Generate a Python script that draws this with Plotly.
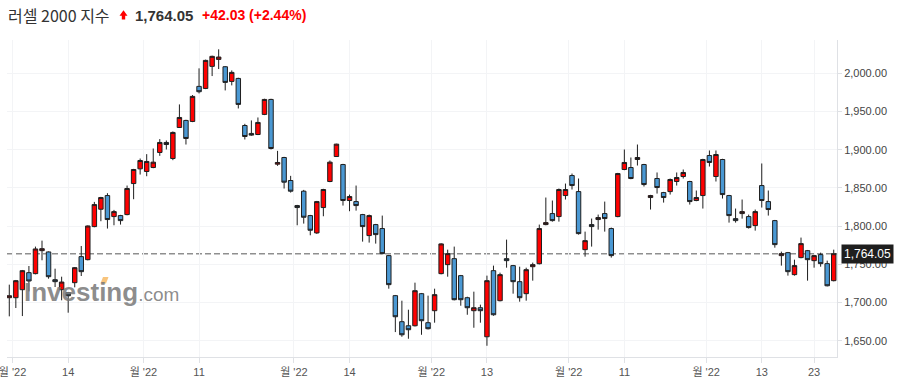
import plotly.graph_objects as go
import pandas as pd

# ---------------- data ----------------
holidays = ["2022-07-04", "2022-09-05", "2022-11-24", "2022-12-26"]
dates = pd.bdate_range("2022-06-30", "2022-12-29", freq="C", holidays=holidays)

open_ = [1706.4, 1706.4, 1716.9, 1739.2, 1737.9, 1768.0, 1766.3, 1730.0, 1716.9, 1713.0,
         1726.1, 1760.2, 1756.2, 1799.5, 1822.2, 1840.1, 1812.6, 1813.9, 1815.2, 1855.8,
         1875.1, 1871.6, 1876.8, 1896.5, 1909.6, 1888.6, 1929.2, 1938.4, 1937.1, 1983.0,
         1980.3, 2009.2, 2018.3, 2008.7, 1989.5, 1993.4, 1931.8, 1921.4, 1920.0, 1946.3,
         1965.9, 1881.2, 1889.9, 1859.8, 1827.0, 1845.8, 1813.9, 1791.2, 1824.4, 1858.5,
         1891.2, 1880.7, 1833.6, 1832.2, 1815.2, 1787.7, 1802.1, 1796.9, 1761.5, 1709.1,
         1675.0, 1669.7, 1669.7, 1711.7, 1673.7, 1689.4, 1737.9, 1749.7, 1757.5, 1735.3,
         1706.4, 1689.4, 1693.3, 1655.3, 1741.8, 1702.5, 1757.5, 1748.4, 1727.4, 1711.7,
         1747.0, 1750.9, 1802.1, 1816.5, 1812.6, 1840.1, 1866.3, 1845.3, 1769.3, 1802.1,
         1808.7, 1816.5, 1796.9, 1812.6, 1874.2, 1876.8, 1887.3, 1880.7, 1837.5, 1862.4,
         1844.0, 1845.3, 1858.5, 1865.0, 1858.5, 1833.6, 1840.1, 1892.5, 1865.0, 1887.3,
         1840.1, 1809.9, 1816.5, 1812.6, 1800.8, 1853.2, 1832.2, 1807.3, 1761.5, 1765.4,
         1736.6, 1758.9, 1768.0, 1754.9, 1762.8, 1751.0, 1728.7]
high = [1723.5, 1729.6, 1742.7, 1747.9, 1773.3, 1781.1, 1767.0, 1744.4, 1733.9, 1713.9,
        1746.6, 1774.1, 1801.0, 1831.8, 1838.4, 1843.2, 1821.3, 1814.8, 1853.2, 1875.0,
        1888.6, 1894.3, 1901.7, 1914.0, 1912.2, 1924.0, 1959.4, 1939.3, 1971.6, 2006.6,
        2018.0, 2023.2, 2031.5, 2009.6, 2003.9, 1994.3, 1934.0, 1938.4, 1942.3, 1966.8,
        1966.8, 1898.6, 1890.8, 1865.9, 1827.9, 1847.5, 1814.8, 1833.1, 1848.9, 1886.0,
        1907.9, 1881.6, 1841.4, 1853.2, 1816.1, 1815.2, 1803.0, 1813.9, 1762.4, 1710.0,
        1702.5, 1690.7, 1726.1, 1712.6, 1709.1, 1718.2, 1777.7, 1769.3, 1773.3, 1736.2,
        1707.7, 1714.3, 1697.3, 1735.3, 1748.4, 1739.2, 1782.4, 1749.3, 1747.0, 1745.7,
        1752.3, 1802.1, 1837.5, 1833.6, 1849.3, 1855.8, 1868.9, 1862.4, 1792.9, 1810.0,
        1815.2, 1832.2, 1798.2, 1869.8, 1900.4, 1889.9, 1906.9, 1881.6, 1841.0, 1870.3,
        1844.9, 1862.4, 1870.3, 1874.2, 1859.4, 1846.7, 1888.2, 1899.1, 1899.1, 1888.2,
        1841.0, 1823.1, 1834.9, 1815.2, 1821.8, 1882.1, 1846.7, 1808.2, 1766.7, 1766.3,
        1756.2, 1785.1, 1768.9, 1762.4, 1765.4, 1754.9, 1769.3]
low = [1682.0, 1692.9, 1682.4, 1714.7, 1737.0, 1755.4, 1731.3, 1720.4, 1703.0, 1686.8,
       1720.0, 1734.8, 1755.3, 1798.6, 1806.5, 1796.9, 1801.2, 1802.1, 1814.3, 1835.3,
       1867.6, 1865.4, 1875.9, 1892.1, 1900.4, 1886.4, 1928.8, 1906.9, 1936.2, 1973.8,
       1979.4, 1996.5, 2005.7, 1977.7, 1984.3, 1954.1, 1913.5, 1918.3, 1919.2, 1945.4,
       1900.4, 1879.0, 1849.3, 1844.0, 1801.2, 1803.4, 1788.1, 1789.9, 1813.0, 1857.6,
       1890.8, 1827.0, 1819.6, 1820.4, 1779.8, 1778.5, 1777.2, 1763.2, 1718.2, 1661.4,
       1655.3, 1652.7, 1668.8, 1657.9, 1664.9, 1673.7, 1737.0, 1733.9, 1702.9, 1695.9,
       1684.1, 1667.1, 1673.7, 1643.5, 1682.8, 1701.6, 1745.7, 1711.7, 1701.2, 1702.5,
       1728.7, 1750.0, 1801.2, 1806.0, 1806.0, 1834.9, 1848.0, 1789.0, 1760.2, 1773.3,
       1795.5, 1792.9, 1758.9, 1811.7, 1873.3, 1861.5, 1879.4, 1851.9, 1821.8, 1842.7,
       1830.9, 1841.4, 1853.2, 1862.4, 1828.3, 1832.7, 1823.1, 1878.1, 1858.5, 1836.2,
       1804.7, 1804.7, 1809.9, 1796.9, 1794.2, 1824.4, 1813.9, 1771.9, 1748.4, 1735.3,
       1735.3, 1758.0, 1728.7, 1745.7, 1747.0, 1721.2, 1727.8]
close = [1709.0, 1728.7, 1741.8, 1728.3, 1770.2, 1770.6, 1733.9, 1727.4, 1726.9, 1709.0,
         1745.7, 1740.5, 1800.3, 1828.3, 1837.5, 1808.7, 1819.1, 1807.3, 1849.3, 1874.2,
         1886.0, 1884.7, 1883.8, 1909.6, 1906.9, 1922.7, 1942.3, 1914.8, 1969.9, 1976.0,
         2017.0, 2022.3, 2021.4, 1988.2, 2001.3, 1959.4, 1917.4, 1919.2, 1935.8, 1965.9,
         1901.7, 1883.4, 1857.6, 1845.8, 1824.4, 1811.7, 1794.7, 1832.2, 1848.0, 1883.8,
         1907.4, 1833.6, 1838.8, 1827.0, 1799.5, 1813.9, 1789.0, 1764.1, 1723.5, 1681.5,
         1657.9, 1664.5, 1715.6, 1676.3, 1665.8, 1710.4, 1776.8, 1764.1, 1703.8, 1703.8,
         1693.3, 1693.3, 1689.4, 1728.7, 1684.1, 1736.6, 1754.9, 1727.4, 1706.4, 1743.1,
         1749.7, 1796.9, 1804.7, 1807.3, 1848.0, 1848.0, 1853.2, 1790.3, 1781.1, 1799.5,
         1811.3, 1810.0, 1761.5, 1868.9, 1883.4, 1862.4, 1889.9, 1854.5, 1840.1, 1850.6,
         1837.5, 1861.1, 1863.7, 1870.3, 1832.2, 1837.5, 1887.3, 1883.4, 1893.8, 1841.4,
         1813.9, 1807.3, 1819.1, 1798.2, 1819.1, 1833.6, 1821.8, 1775.9, 1764.1, 1740.5,
         1748.4, 1777.2, 1756.2, 1761.5, 1751.0, 1722.02, 1764.05]

# x-axis ticks: month starts ("YYYY-MM") and single days ("YYYY-MM-DD")
tick_dates = ["2022-07", "2022-07-14", "2022-08", "2022-08-11", "2022-09", "2022-09-14",
              "2022-10", "2022-10-13", "2022-11", "2022-11-11", "2022-12", "2022-12-13",
              "2022-12-23"]
tick_text = ["월 '22", "14", "월 '22", "11", "월 '22", "14", "월 '22", "13", "월 '22", "11",
             "월 '22", "13", "23"]
y_ticks = [1650, 1700, 1750, 1800, 1850, 1900, 1950, 2000]

title_name = "러셀 2000 지수"
change = 42.03
change_pct = 2.44

# ---------------- helpers ----------------
date_str = [d.strftime("%Y-%m-%d") for d in dates]
xi = list(range(len(close)))
tick_pos = []
for t in tick_dates:
    if len(t) == 7:
        first = next(i for i, d in enumerate(date_str) if d.startswith(t))
        tick_pos.append(first - 0.5)
    else:
        tick_pos.append(date_str.index(t))

W, H = 897, 384
ML, MR, MT, MB = 7, 60, 40, 27
PW, PH = W - ML - MR, H - MT - MB


def px(x):
    return (x - ML) / PW


def py(y):
    return (H - MB - y) / PH


def pix_path(points):
    return "M " + " L ".join(f"{px(x):.5f},{py(y):.5f}" for x, y in points) + " Z"


FONT = "'Liberation Sans', Arial, 'Noto Sans CJK KR', sans-serif"
KFONT = "'Noto Sans CJK KR', 'Liberation Sans', sans-serif"
RED = "#ff0000"
BLUE = "#4a98d3"
EDGE = "#1f1f1f"

fig = go.Figure()
fig.add_trace(go.Candlestick(
    x=xi, open=open_, high=high, low=low, close=close,
    text=date_str, hoverinfo="text+y",
    increasing=dict(fillcolor=RED, line=dict(color=EDGE, width=1)),
    decreasing=dict(fillcolor=BLUE, line=dict(color=EDGE, width=1)),
    whiskerwidth=0, showlegend=False,
))

last = close[-1]
arrow = [(119.5, 15.8), (123.5, 10.2), (127.5, 15.8), (125.2, 15.8), (125.2, 19.6),
         (121.8, 19.6), (121.8, 15.8)]
idot = [(100.5, 283.5), (103.0, 277.0), (108.5, 277.0), (106.0, 283.5)]

fig.update_layout(
    width=W, height=H,
    margin=dict(l=ML, r=MR, t=MT, b=MB, autoexpand=False),
    paper_bgcolor="white", plot_bgcolor="white",
    boxgap=0.15, boxgroupgap=0.2,
    font=dict(family=FONT, size=11, color="#444"),
    xaxis=dict(
        range=[-0.35, len(close) - 0.5],
        tickmode="array", tickvals=tick_pos, ticktext=tick_text,
        ticklabeloverflow="allow",
        showgrid=True, gridcolor="#f3f4f6", gridwidth=1,
        showline=True, linecolor="#dfe1e5", linewidth=1,
        ticks="outside", ticklen=5, tickcolor="#dfe1e5",
        tickfont=dict(family=FONT, size=11, color="#555"),
        rangeslider=dict(visible=False), zeroline=False, fixedrange=True,
    ),
    yaxis=dict(
        side="right", range=[1628.8, 2043.7],
        tickmode="array", tickvals=y_ticks, tickformat=",.2f",
        showgrid=True, gridcolor="#f3f4f6", gridwidth=1,
        showline=True, linecolor="#dfe1e5", linewidth=1,
        ticks="outside", ticklen=4, tickcolor="#dfe1e5",
        tickfont=dict(family=FONT, size=11, color="#444"),
        zeroline=False, fixedrange=True,
    ),
    shapes=[
        dict(type="line", xref="paper", x0=0, x1=1, yref="y", y0=last, y1=last,
             line=dict(color="#8f8f8f", width=1.5, dash="6px,3px"), layer="below"),
        dict(type="path", xref="paper", yref="paper", path=pix_path(arrow),
             fillcolor=RED, line=dict(width=0)),
    ],
    annotations=[
        dict(xref="paper", yref="paper", x=0, y=1, xshift=-1, yshift=25,
             xanchor="left", yanchor="middle", showarrow=False,
             text=title_name, font=dict(family=KFONT, size=16, color="#333")),
        dict(xref="paper", yref="paper", x=0, y=1, xshift=126, yshift=25,
             xanchor="left", yanchor="middle", showarrow=False,
             text=f"<b>{last:,.2f}</b>", font=dict(family=FONT, size=15, color="#333")),
        dict(xref="paper", yref="paper", x=0, y=1, xshift=193, yshift=25,
             xanchor="left", yanchor="middle", showarrow=False,
             text=f"<b>+{change:.2f} (+{change_pct:.2f}%)</b>",
             font=dict(family=FONT, size=14, color=RED)),
        dict(xref="paper", yref="y", x=1, y=last, xshift=4,
             xanchor="left", yanchor="middle", showarrow=False,
             text=f"{last:,.2f}", bgcolor="#1e1e1e", borderpad=2,
             font=dict(family=FONT, size=12, color="white")),
        dict(xref="paper", yref="paper", x=px(22), y=py(292),
             xanchor="left", yanchor="middle", showarrow=False,
             text="<b>Investing</b><span style='font-size:19px;font-weight:normal'>.com</span>",
             font=dict(family=FONT, size=26, color="rgba(120,120,120,0.85)")),
    ],
)
# orange i-dot of the watermark logo
fig.add_shape(type="path", xref="paper", yref="paper", path=pix_path(idot),
              fillcolor="rgba(247,190,110,0.9)", line=dict(width=0), layer="above")

fig.write_html("out.html", config={"displayModeBar": False},
               post_script="document.body.style.margin='0';document.body.style.overflow='hidden';")
